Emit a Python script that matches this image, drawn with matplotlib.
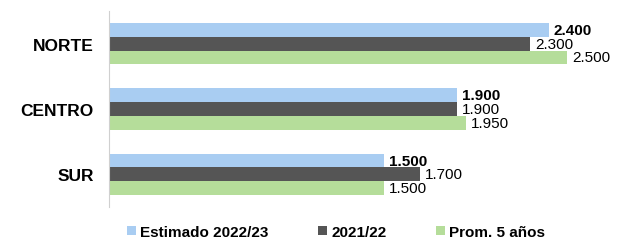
import matplotlib.pyplot as plt
import numpy as np

# Datos
regiones = ['NORTE', 'CENTRO', 'SUR']
estimado = [2400, 1900, 1500]
campana_2122 = [2300, 1900, 1700]
prom_5 = [2500, 1950, 1500]
series = ['Estimado 2022/23', '2021/22', 'Prom. 5 años']

colores = ['#A9CDF2', '#555555', '#B5DD9A']

plt.rcParams['font.family'] = ['Liberation Sans', 'DejaVu Sans']

fig = plt.figure(figsize=(6.4, 2.53), dpi=100)
ax = fig.add_axes([109 / 640, 1 - 208 / 253, (622 - 109) / 640, 196 / 253])

y = np.arange(len(regiones))
h = 0.21
valores = [estimado, campana_2122, prom_5]
for i, (vals, col, nombre) in enumerate(zip(valores, colores, series)):
    pos = y + (i - 1) * h
    bars = ax.barh(pos, vals, height=h, color=col, label=nombre)
    for b, v in zip(bars, vals):
        txt = f'{v:,}'.replace(',', '.')
        ax.annotate(txt, (b.get_width(), b.get_y() + b.get_height() / 2),
                    xytext=(3.5, 0), textcoords='offset points',
                    va='center', ha='left', fontsize=11,
                    fontweight='bold' if i == 0 else 'normal', color='black')

ax.set_xlim(0, 2800)
ax.set_ylim(2.5, -0.5)
ax.set_yticks(y)
ax.set_yticklabels(regiones, fontsize=12.5, fontweight='bold')
ax.tick_params(axis='y', length=0, pad=11)
ax.set_xticks([])
for s in ['top', 'right', 'bottom']:
    ax.spines[s].set_visible(False)
ax.spines['left'].set_color('#D0D0D0')

fig.legend(loc='center', bbox_to_anchor=(336 / 640, 1 - 233 / 253), ncol=3,
           frameon=False, handlelength=0.6, handleheight=0.6,
           handletextpad=0.3, columnspacing=3.2,
           prop={'size': 11, 'weight': 'bold'})

plt.savefig('out.png', dpi=100)
plt.close()
